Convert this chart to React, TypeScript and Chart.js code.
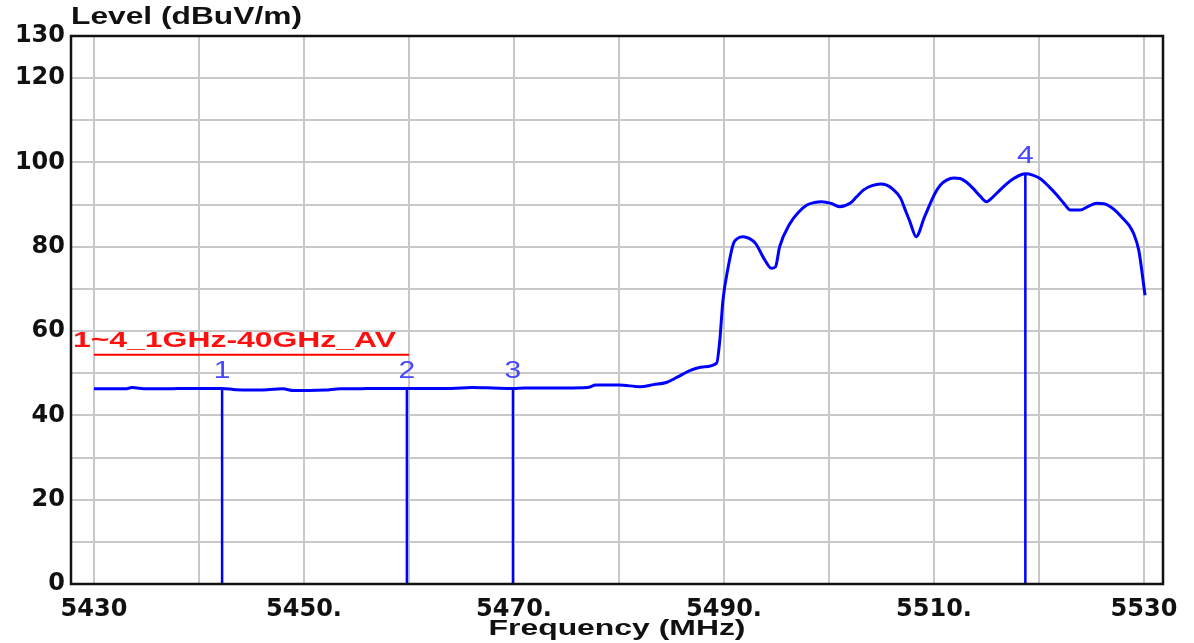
import React, { useEffect, useRef } from "react";
import { Chart, registerables } from "chart.js";

Chart.register(...registerables);

// Trace (frequency in MHz, level in dBuV/m)
const freq: number[] = [
  5430, 5431.5, 5433, 5433.6, 5435, 5437, 5439, 5441, 5442.2, 5443.5, 5445, 5446.5, 5448, 5449,
  5450.5, 5452, 5453.5, 5455, 5457, 5459.8, 5462, 5464, 5466, 5468, 5469.9, 5471, 5473, 5475,
  5477, 5477.8, 5480, 5482, 5483.3, 5484.5, 5485.5, 5486.8, 5488, 5489.3, 5489.6, 5489.9, 5490.4,
  5490.9, 5491.3, 5491.8, 5492.4, 5493.0, 5493.9, 5494.5, 5494.9, 5495.3, 5496.3, 5497.1, 5497.9,
  5498.6, 5499.3, 5500.2, 5501.0, 5502.0, 5502.6, 5503.3, 5504.1, 5504.9, 5505.5, 5506.1, 5506.8,
  5507.3, 5507.7, 5508.3, 5509.1, 5510.1, 5510.6, 5511.2, 5511.9, 5512.5, 5513.1, 5513.7, 5514.4,
  5515.0, 5515.6, 5516.3, 5517.0, 5517.6, 5518.7, 5519.4, 5520.1, 5520.9, 5521.7, 5522.4, 5523.0,
  5523.9, 5524.7, 5525.5, 5526.2, 5526.8, 5527.4, 5528.0, 5528.6, 5529.0, 5529.5, 5530.1,
];
const level: number[] = [
  46.3, 46.3, 46.3, 46.6, 46.3, 46.3, 46.4, 46.4, 46.4, 46.1, 46.0, 46.1, 46.3, 45.9, 45.9, 46.0,
  46.3, 46.3, 46.4, 46.4, 46.4, 46.4, 46.6, 46.5, 46.4, 46.5, 46.5, 46.5, 46.6, 47.2, 47.2, 46.8,
  47.3, 47.8, 49.0, 50.7, 51.5, 52.4, 57.8, 67.3, 75.2, 80.8, 82.0, 82.4, 82.0, 80.8, 76.8, 74.9,
  75.2, 80.0, 85.6, 88.2, 89.9, 90.5, 90.7, 90.3, 89.5, 90.3, 91.8, 93.5, 94.5, 94.9, 94.6, 93.6,
  91.6, 88.5, 86.0, 82.4, 87.1, 92.7, 94.6, 95.8, 96.3, 96.2, 95.3, 93.9, 92.0, 90.7, 91.8, 93.5,
  95.1, 96.2, 97.3, 97.0, 96.2, 94.4, 92.3, 90.2, 88.7, 88.7, 89.6, 90.3, 90.2, 89.5, 88.3, 86.7,
  85.0, 83.2, 79.2, 68.5,
];

// Markers
const markerLabels: string[] = ["1", "2", "3", "4"];
const markerFreq: number[] = [5442.2, 5459.8, 5469.9, 5518.7];
const markerLevel: number[] = [46.4, 46.4, 46.4, 97.3];

// Limit line
const limitLabel = "1~4_1GHz-40GHz_AV";
const limitFreq: number[] = [5430, 5460];
const limitLevel: number[] = [54.4, 54.4];

// Axes
const xGridTicks: number[] = [5430, 5440, 5450, 5460, 5470, 5480, 5490, 5500, 5510, 5520, 5530];
const xTickLabels: Record<number, string> = {
  5430: "5430",
  5450: "5450.",
  5470: "5470.",
  5490: "5490.",
  5510: "5510.",
  5530: "5530",
};
const yLabelled: number[] = [0, 20, 40, 60, 80, 100, 120, 130];
const xTitle = "Frequency (MHz)";
const yTitle = "Level (dBuV/m)";

function stretchText(
  ctx: CanvasRenderingContext2D,
  text: string,
  x: number,
  y: number,
  align: CanvasTextAlign,
  sx: number
) {
  ctx.save();
  ctx.translate(x, y);
  ctx.scale(sx, 1);
  ctx.textAlign = align;
  ctx.textBaseline = "middle";
  ctx.fillText(text, 0, 0);
  ctx.restore();
}

const overlayPlugin = {
  id: "overlay",
  afterDatasetsDraw(chart: any) {
    const ctx: CanvasRenderingContext2D = chart.ctx;
    const xs = chart.scales.x;
    const ys = chart.scales.y;
    ctx.save();
    ctx.fillStyle = "#4646ff";
    ctx.font = "24px 'Liberation Sans', Arial, sans-serif";
    markerLabels.forEach((lab, i) => {
      const px = xs.getPixelForValue(markerFreq[i]);
      const py = ys.getPixelForValue(markerLevel[i]);
      stretchText(ctx, lab, px, py - 17, "center", 1.25);
    });
    ctx.fillStyle = "#ff1010";
    ctx.font = "bold 22px 'Liberation Sans', Arial, sans-serif";
    const ly = ys.getPixelForValue(limitLevel[0]);
    stretchText(ctx, limitLabel, chart.chartArea.left + 2, ly - 14, "left", 1.45);
    ctx.restore();
  },
  afterDraw(chart: any) {
    const ctx: CanvasRenderingContext2D = chart.ctx;
    const a = chart.chartArea;
    ctx.save();
    ctx.strokeStyle = "#111111";
    ctx.lineWidth = 2.5;
    ctx.strokeRect(a.left, a.top, a.right - a.left, a.bottom - a.top);
    ctx.fillStyle = "#111111";
    ctx.font = "bold 23px 'Liberation Sans', Arial, sans-serif";
    stretchText(ctx, yTitle, a.left, 18, "left", 1.38);
    ctx.font = "bold 22px 'Liberation Sans', Arial, sans-serif";
    stretchText(ctx, xTitle, (a.left + a.right) / 2, 629, "center", 1.45);
    ctx.restore();
  },
};

export default function App() {
  const ref = useRef<HTMLCanvasElement | null>(null);

  useEffect(() => {
    document.body.style.margin = "0";
    const canvas = ref.current;
    if (!canvas) return;

    const traceData = freq.map((f, i) => ({ x: f, y: level[i] }));
    const markerSets = markerFreq.map((f, i) => ({
      data: [
        { x: f, y: 0 },
        { x: f, y: markerLevel[i] },
      ],
      borderColor: "#0000ff",
      borderWidth: 2.5,
      pointRadius: 0,
      tension: 0,
    }));

    const chart = new Chart(canvas, {
      type: "line",
      data: {
        datasets: [
          {
            data: limitFreq.map((f, i) => ({ x: f, y: limitLevel[i] })),
            borderColor: "#ff0000",
            borderWidth: 2,
            pointRadius: 0,
          },
          ...markerSets,
          {
            data: traceData,
            borderColor: "#0000ff",
            borderWidth: 3,
            pointRadius: 0,
            cubicInterpolationMode: "monotone",
          },
        ],
      },
      options: {
        responsive: false,
        animation: false,
        devicePixelRatio: 1,
        layout: { padding: { top: 36, right: 31, left: 0, bottom: 0 } },
        plugins: {
          legend: { display: false },
          tooltip: { enabled: false },
          title: { display: false },
        },
        scales: {
          x: {
            type: "linear",
            min: 5427.81,
            max: 5531.81,
            afterBuildTicks: (scale: any) => {
              scale.ticks = xGridTicks.map((v) => ({ value: v }));
            },
            afterFit: (scale: any) => {
              scale.height = 59;
            },
            grid: { color: "#c8c8c8", lineWidth: 2, drawTicks: false },
            border: { display: false },
            ticks: {
              autoSkip: false,
              maxRotation: 0,
              padding: 11,
              color: "#111111",
              font: { family: "'DejaVu Sans'", weight: "bold", size: 24 },
              callback: (v: any) => xTickLabels[Number(v)] ?? "",
            },
          },
          y: {
            type: "linear",
            min: 0,
            max: 130,
            afterFit: (scale: any) => {
              scale.width = 71;
            },
            grid: { color: "#c8c8c8", lineWidth: 2, drawTicks: false },
            border: { display: false },
            ticks: {
              stepSize: 10,
              autoSkip: false,
              padding: 6,
              color: "#111111",
              font: { family: "'DejaVu Sans'", weight: "bold", size: 24 },
              callback: (v: any) => (yLabelled.includes(Number(v)) ? String(v) : ""),
            },
          },
        },
      },
      plugins: [overlayPlugin],
    } as any);

    return () => chart.destroy();
  }, []);

  return (
    <div style={{ width: 1194, height: 643, background: "#ffffff" }}>
      <canvas ref={ref} width={1194} height={643} />
    </div>
  );
}
